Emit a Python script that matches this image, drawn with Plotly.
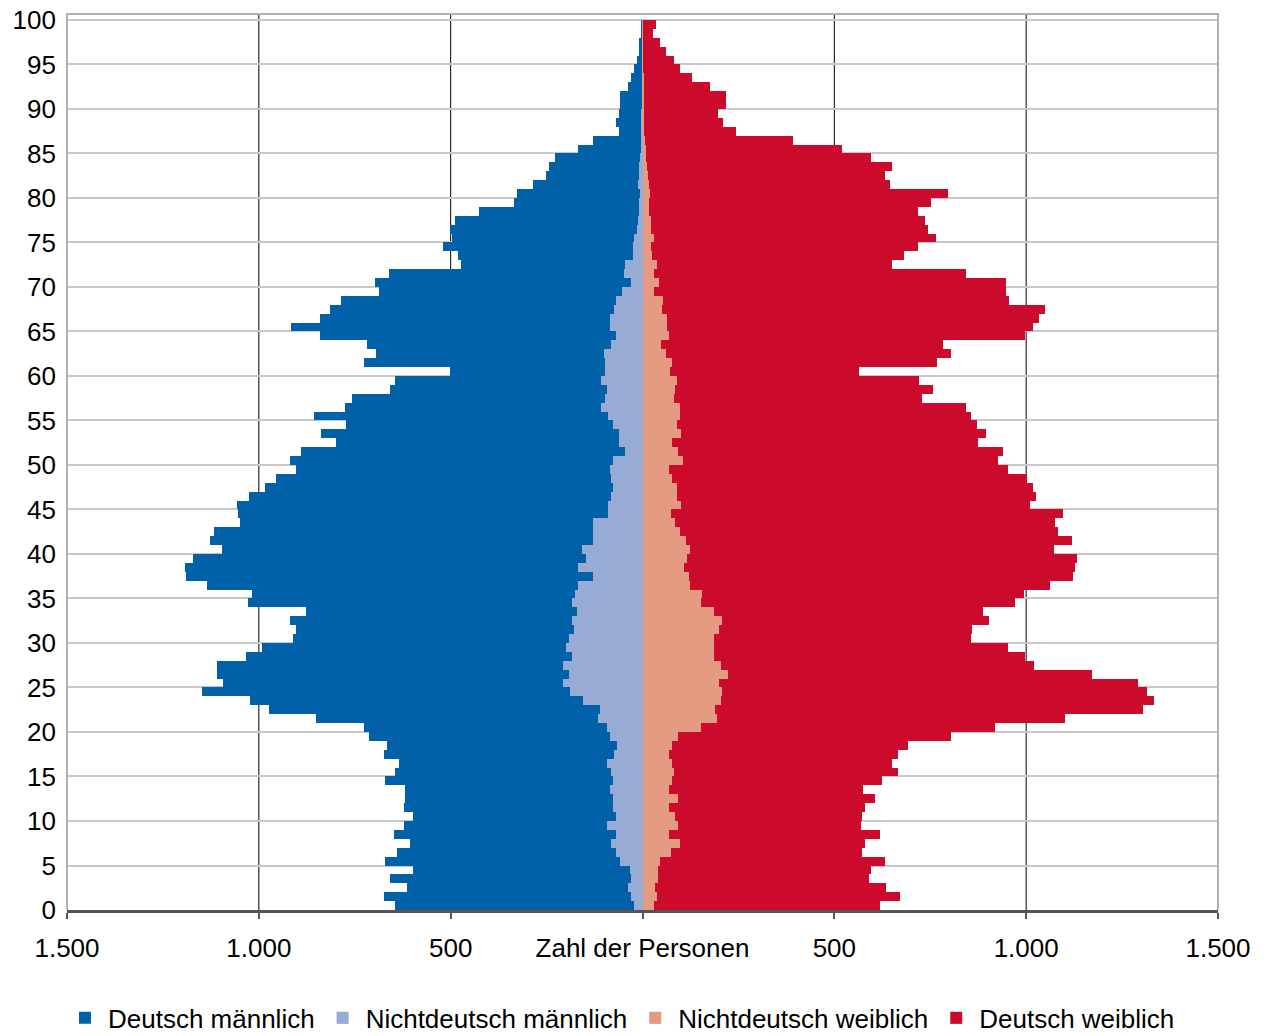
import plotly.graph_objects as go

# ---------------- data (ages 0..99) ----------------
ages = list(range(100))

deutsch_maennlich = [
    622, 643, 577, 626, 564, 614, 573, 524, 581, 529,
    529, 546, 540, 534, 596, 563, 542, 600, 600, 627,
    632, 736, 863, 869, 958, 885, 916, 902, 851, 793,
    719, 723, 734, 707, 843, 843, 968, 1059, 1026, 1024,
    937, 999, 987, 919, 964, 966, 944, 909, 874, 816,
    841, 845, 739, 779, 697, 766, 666, 659, 564, 536,
    406, 630, 593, 637, 773, 833, 757, 740, 719, 634,
    667, 612, 429, 457, 494, 476, 489, 478, 416, 326,
    320, 274, 243, 237, 221, 162, 124, 57, 65, 59,
    56, 56, 37, 27, 22, 13, 9, 7, 4, 2,
]

nichtdeutsch_maennlich = [
    23, 31, 37, 31, 33, 58, 68, 82, 68, 93,
    68, 76, 78, 84, 76, 82, 93, 74, 66, 86,
    93, 115, 111, 155, 189, 208, 192, 206, 183, 200,
    192, 179, 185, 171, 185, 175, 167, 130, 167, 148,
    159, 128, 130, 130, 91, 91, 82, 76, 82, 86,
    78, 45, 60, 60, 76, 89, 109, 97, 93, 109,
    97, 97, 101, 82, 68, 84, 84, 74, 68, 54,
    29, 49, 45, 25, 25, 21, 14, 12, 10, 8,
    6, 12, 8, 8, 6, 5, 4, 3, 3, 3,
    2, 2, 2, 2, 1, 1, 1, 1, 0, 0,
]

nichtdeutsch_weiblich = [
    29, 37, 33, 41, 41, 45, 74, 97, 70, 93,
    84, 68, 93, 70, 76, 82, 76, 68, 76, 93,
    153, 194, 190, 204, 206, 200, 222, 204, 187, 187,
    187, 200, 206, 187, 152, 155, 124, 120, 109, 117,
    124, 113, 97, 85, 74, 101, 89, 91, 76, 70,
    105, 93, 78, 101, 89, 99, 99, 82, 84, 91,
    72, 78, 60, 49, 68, 64, 64, 52, 54, 31,
    43, 31, 39, 25, 23, 29, 23, 21, 17, 16,
    19, 17, 14, 12, 10, 8, 6, 5, 5, 5,
    4, 4, 3, 3, 2, 2, 2, 1, 1, 1,
]

deutsch_weiblich = [
    589, 635, 602, 550, 554, 588, 499, 484, 550, 476,
    489, 513, 513, 505, 548, 583, 573, 597, 616, 711,
    766, 908, 1114, 1129, 1109, 1092, 950, 816, 810, 765,
    670, 659, 698, 701, 820, 840, 939, 1003, 1018, 1016,
    949, 1006, 987, 989, 1022, 910, 937, 927, 927, 882,
    822, 847, 796, 793, 783, 756, 744, 647, 674, 630,
    493, 689, 744, 734, 929, 954, 970, 997, 902, 917,
    905, 812, 612, 657, 696, 737, 721, 715, 702, 736,
    778, 628, 619, 637, 585, 513, 386, 238, 205, 193,
    214, 214, 172, 125, 95, 80, 60, 44, 27, 35,
]

x_tickvals = [-1500, -1000, -500, 0, 500, 1000, 1500]
x_ticktext = ["1.500", "1.000", "500", "Zahl der Personen", "500", "1.000", "1.500"]
y_tickvals = list(range(0, 101, 5))
grid_x = [-1000, -500, 500, 1000]

# ---------------- styling ----------------
FONT = "Liberation Sans, Arial, Helvetica, sans-serif"
C_DM = "#0061a8"
C_NDM = "#98abd4"
C_NDW = "#e59a82"
C_DW = "#cc0a2b"

y_pos = [a + 0.5 for a in ages]

fig = go.Figure()


def add(name, values, color, sign, rank):
    fig.add_trace(go.Bar(
        y=y_pos,
        x=[sign * v for v in values],
        orientation="h",
        width=1,
        name=name,
        legendrank=rank,
        marker=dict(color=color, line=dict(width=0)),
        customdata=[[a, v] for a, v in zip(ages, values)],
        hovertemplate="Alter %{customdata[0]}<br>" + name + ": %{customdata[1]}<extra></extra>",
    ))


# stacking order: inner (non-German) first, then German outward
add("Nichtdeutsch männlich", nichtdeutsch_maennlich, C_NDM, -1, 2)
add("Deutsch männlich", deutsch_maennlich, C_DM, -1, 1)
add("Nichtdeutsch weiblich", nichtdeutsch_weiblich, C_NDW, 1, 3)
add("Deutsch weiblich", deutsch_weiblich, C_DW, 1, 4)

shapes = []
for gx in grid_x:
    shapes.append(dict(type="line", xref="x", yref="paper", x0=gx, x1=gx, y0=0, y1=1,
                       line=dict(color="#000000", width=1), layer="below"))
# light grey frame: left, top, right
shapes.append(dict(type="path", xref="paper", yref="paper",
                   path="M0,0 L0,1 L1,1 L1,0",
                   line=dict(color="#b0b0b0", width=2), layer="above"))

fig.update_layout(
    width=1266,
    height=1036,
    margin=dict(l=67, r=48, t=14, b=126, autoexpand=False),
    paper_bgcolor="white",
    plot_bgcolor="white",
    barmode="relative",
    bargap=0,
    font=dict(family=FONT, size=26, color="#000000"),
    shapes=shapes,
    xaxis=dict(
        range=[-1500, 1500],
        tickvals=x_tickvals,
        ticktext=x_ticktext,
        showgrid=False,
        zeroline=False,
        showline=True,
        linecolor="#555555",
        linewidth=3,
        ticks="outside",
        ticklen=6,
        tickwidth=2,
        tickcolor="#555555",
        ticklabelstandoff=7,
        ticklabeloverflow="allow",
        tickfont=dict(family=FONT, size=26, color="#000000"),
        automargin=False,
        fixedrange=True,
    ),
    yaxis=dict(
        range=[0, 100.67],
        tickvals=y_tickvals,
        ticktext=[str(v) for v in y_tickvals],
        showgrid=True,
        gridcolor="#c8c8c8",
        gridwidth=2,
        zeroline=False,
        showline=False,
        ticks="",
        ticklabelstandoff=10,
        ticklabeloverflow="allow",
        tickfont=dict(family=FONT, size=26, color="#000000"),
        automargin=False,
        fixedrange=True,
    ),
    legend=dict(
        orientation="h",
        xref="container",
        x=0.4905,
        xanchor="center",
        yref="container",
        y=0.0174,
        yanchor="middle",
        font=dict(family=FONT, size=26, color="#000000"),
        bgcolor="rgba(0,0,0,0)",
        itemwidth=36,
    ),
    showlegend=True,
)

# remove the browser's default 8px body margin so the figure fills the window exactly
fig.write_html(
    "out.html",
    config={"displayModeBar": False},
    post_script="document.body.style.margin='0px';",
)
